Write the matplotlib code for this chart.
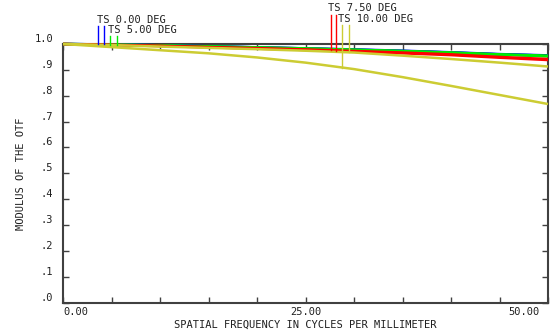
import numpy as np
import matplotlib
matplotlib.use("Agg")
import matplotlib.pyplot as plt
from matplotlib.transforms import ScaledTranslation

freq = [0, 5, 10, 15, 20, 25, 30, 35, 40, 45, 50]
blue_t = [1.0, 0.998, 0.995, 0.991, 0.987, 0.983, 0.979, 0.974, 0.968, 0.961, 0.956]
blue_s = [1.0, 0.998, 0.995, 0.991, 0.987, 0.983, 0.978, 0.973, 0.967, 0.960, 0.955]
green_t = [1.0, 0.998, 0.995, 0.991, 0.987, 0.983, 0.978, 0.973, 0.967, 0.960, 0.955]
green_s = [1.0, 0.997, 0.994, 0.990, 0.986, 0.982, 0.977, 0.972, 0.966, 0.959, 0.952]
red_t = [1.0, 0.997, 0.993, 0.988, 0.984, 0.979, 0.973, 0.967, 0.960, 0.950, 0.942]
red_s = [1.0, 0.996, 0.992, 0.987, 0.982, 0.977, 0.971, 0.964, 0.957, 0.947, 0.938]
yellow_t = [1.0, 0.996, 0.990, 0.985, 0.980, 0.974, 0.967, 0.955, 0.942, 0.928, 0.913]
yellow_s = [1.0, 0.988, 0.976, 0.964, 0.948, 0.928, 0.903, 0.872, 0.838, 0.803, 0.768]

legend_labels = ["TS 0.00 DEG", "TS 5.00 DEG", "TS 7.50 DEG", "TS 10.00 DEG"]
legend_freq_t = [3.6, 4.85, 27.6, 29.45]
legend_freq_s = [4.2, 5.57, 28.1, 28.8]
legend_text_x = [3.5, 4.6, 27.3, 28.35]
legend_text_y = [1.075, 1.035, 1.118, 1.077]

ytick_vals = [0.0, 0.1, 0.2, 0.3, 0.4, 0.5, 0.6, 0.7, 0.8, 0.9, 1.0]
ytick_labels = [".0", ".1", ".2", ".3", ".4", ".5", ".6", ".7", ".8", ".9", "1.0"]
xtick_vals = [0, 5, 10, 15, 20, 25, 30, 35, 40, 45, 50]
xtick_labels = ["0.00", "", "", "", "", "25.00", "", "", "", "", "50.00"]

BLUE = "#0000ff"
GREEN = "#00ee00"
RED = "#ff0000"
YEL = "#cccc33"
FRAME = "#404040"
TXT = "#202020"
FONT = "DejaVu Sans Mono"
FS = 7.5

fig = plt.figure(figsize=(5.5, 3.31), dpi=100)
ax = fig.add_axes([63/550, 28.3/331, 485/550, 258.7/331])
ax.set_xlim(0, 50)
ax.set_ylim(0, 1.0)

series = [(blue_s, BLUE), (blue_t, BLUE), (green_s, GREEN), (green_t, GREEN),
          (red_t, RED), (red_s, RED), (yellow_t, YEL), (yellow_s, YEL)]
for z, (vals, c) in enumerate(series):
    ax.plot(freq, vals, color=c, lw=1.8, solid_capstyle="butt", clip_on=False, zorder=3 + 0.1 * z)

legend_pairs = [(blue_t, blue_s, BLUE), (green_t, green_s, GREEN),
                (red_t, red_s, RED), (yellow_t, yellow_s, YEL)]
for i, (t, s, c) in enumerate(legend_pairs):
    top = legend_text_y[i] - 0.005
    yt = np.interp(legend_freq_t[i], freq, t)
    ys = np.interp(legend_freq_s[i], freq, s)
    ax.plot([legend_freq_t[i], legend_freq_t[i]], [top, yt], color=c, lw=1.0, clip_on=False, zorder=5)
    ax.plot([legend_freq_s[i], legend_freq_s[i]], [top, ys], color=c, lw=1.0, clip_on=False, zorder=5)
    ax.text(legend_text_x[i], legend_text_y[i], legend_labels[i], fontsize=FS,
            family=FONT, color=TXT, ha="left", va="bottom", clip_on=False)

for sp in ax.spines.values():
    sp.set_color(FRAME)
    sp.set_linewidth(1.5)
    sp.set_zorder(2.5)

ax.set_yticks(ytick_vals)
ax.set_yticklabels(ytick_labels, fontsize=FS, family=FONT, color=TXT)
ax.set_xticks(xtick_vals)
ax.set_xticklabels(xtick_labels, fontsize=FS, family=FONT, color=TXT)
ax.tick_params(direction="in", length=4.5, width=1.0, color=FRAME, top=True, right=True)
ax.tick_params(axis="y", pad=7)
ax.tick_params(axis="x", pad=3)

off = ScaledTranslation(0, 6/100, fig.dpi_scale_trans)
for lab in ax.get_yticklabels():
    lab.set_transform(lab.get_transform() + off)
xl = ax.get_xticklabels()
xl[0].set_ha("left")
xl[-1].set_ha("right")
xl[-1].set_transform(xl[-1].get_transform() + ScaledTranslation(-8/100, 0, fig.dpi_scale_trans))

ax.set_xlabel("SPATIAL FREQUENCY IN CYCLES PER MILLIMETER", fontsize=FS, family=FONT, color=TXT, labelpad=2)
ax.set_ylabel("MODULUS OF THE OTF", fontsize=FS, family=FONT, color=TXT, labelpad=6)

fig.savefig("out.png", dpi=100, facecolor="white")
